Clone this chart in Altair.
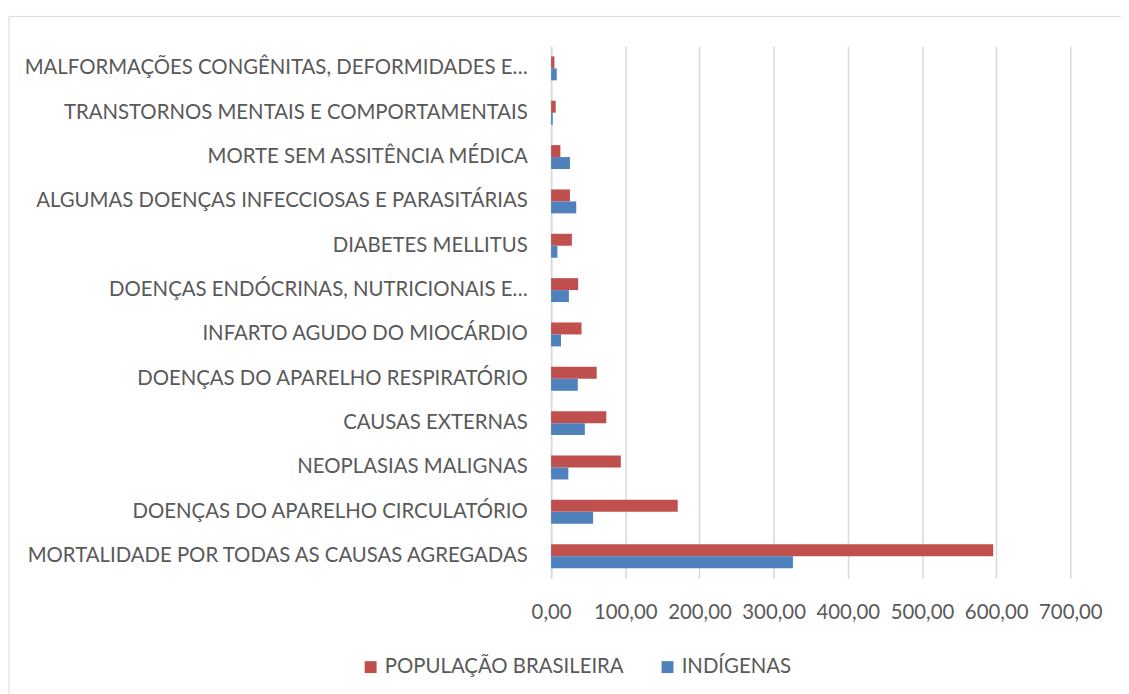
import altair as alt
import pandas as pd

categories = [
    "MALFORMAÇÕES CONGÊNITAS, DEFORMIDADES E…",
    "TRANSTORNOS MENTAIS E COMPORTAMENTAIS",
    "MORTE SEM ASSITÊNCIA MÉDICA",
    "ALGUMAS DOENÇAS INFECCIOSAS E PARASITÁRIAS",
    "DIABETES MELLITUS",
    "DOENÇAS ENDÓCRINAS, NUTRICIONAIS E…",
    "INFARTO AGUDO DO MIOCÁRDIO",
    "DOENÇAS DO APARELHO RESPIRATÓRIO",
    "CAUSAS EXTERNAS",
    "NEOPLASIAS MALIGNAS",
    "DOENÇAS DO APARELHO CIRCULATÓRIO",
    "MORTALIDADE POR TODAS AS CAUSAS AGREGADAS",
]
populacao = [4.5, 6.2, 12.5, 25.4, 28.0, 36.5, 41.0, 61.5, 74.4, 94.0, 170.7, 596.0]
indigenas = [7.6, 2.2, 25.4, 33.9, 8.5, 24.0, 13.4, 36.0, 45.5, 23.2, 56.6, 326.0]
series = ["POPULAÇÃO BRASILEIRA", "INDÍGENAS"]
colors = ["#C0504D", "#4F81BD"]
ticks = [0, 100, 200, 300, 400, 500, 600, 700]

rows = []
for c, p, i in zip(categories, populacao, indigenas):
    rows.append({"cat": c, "serie": series[0], "valor": p})
    rows.append({"cat": c, "serie": series[1], "valor": i})
df = pd.DataFrame(rows)

W, H = 523, 536
FONT = "Lato"
FS = 20.5
TXT = "#595959"

bars = alt.Chart(df).mark_bar().encode(
    y=alt.Y("cat:N", sort=categories, title=None,
            scale=alt.Scale(paddingInner=0.46, paddingOuter=0.23),
            axis=alt.Axis(labelFontSize=FS, labelColor=TXT, labelFont=FONT,
                          labelPadding=24, ticks=False, domain=True,
                          domainColor="#d9d9d9", domainWidth=1.5,
                          labelLimit=700, grid=False)),
    yOffset=alt.YOffset("serie:N", sort=series),
    x=alt.X("valor:Q", title=None,
            scale=alt.Scale(domain=[0, 700], nice=False),
            axis=alt.Axis(values=ticks,
                          labelExpr="replace(format(datum.value, '.2f'), '.', ',')",
                          labelFontSize=FS, labelColor=TXT, labelFont=FONT,
                          labelPadding=24, labelFlush=False, labelOverlap=False,
                          ticks=False, domain=False,
                          grid=True, gridColor="#d9d9d9", gridWidth=1.5)),
    color=alt.Color("serie:N", sort=series,
                    scale=alt.Scale(domain=series, range=colors),
                    legend=alt.Legend(title=None, orient="none", direction="horizontal",
                                      legendX=-192, legendY=615,
                                      symbolType="square", symbolSize=144,
                                      symbolStrokeWidth=0,
                                      labelFontSize=FS, labelColor=TXT, labelFont=FONT,
                                      labelLimit=500, columnPadding=33,
                                      symbolOpacity=1)),
)

border = alt.Chart(pd.DataFrame({"a": [0]})).mark_rect(
    fill=None, stroke="#d9d9d9", strokeWidth=1
).encode(
    x=alt.value(-546), x2=alt.value(W + 80),
    y=alt.value(-30), y2=alt.value(H + 200),
)

chart = alt.layer(border, bars).properties(
    width=W, height=H,
    autosize=alt.AutoSizeParams(type="none"),
    padding={"left": 547, "top": 36, "right": 51, "bottom": 114},
).configure(background="white").configure_view(stroke=None)

chart.save("out.html", embed_options={"renderer": "svg", "actions": False})
